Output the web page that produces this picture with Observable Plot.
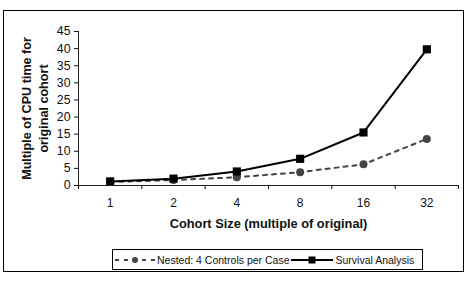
<!DOCTYPE html>
<html>
<head>
<meta charset="utf-8">
<script src="https://cdn.jsdelivr.net/npm/d3@7"></script>
<script src="https://cdn.jsdelivr.net/npm/@observablehq/plot@0.6"></script>
<style>
  body { margin: 0; background: #fff; font-family: "Liberation Sans", Arial, sans-serif; }
  #wrap { position: relative; width: 468px; height: 286px; }
  #border { position: absolute; left: 3px; top: 10px; width: 459px; height: 260px; border: 1.5px solid #000; }
  #chart { position: absolute; left: 0; top: 0; }
  #legend { position: absolute; left: 112px; top: 249px; width: 309px; height: 19px; border: 1px solid #000;
            display: flex; align-items: center; font-size: 10.5px; color: #111; white-space: nowrap; }
  #legend svg { display: block; }
</style>
</head>
<body>
<div id="wrap">
  <div id="border"></div>
  <div id="chart"></div>
  <div id="legend"></div>
</div>
<script>
// Cohort size multiples and relative CPU time for each method
const sizes = ["1", "2", "4", "8", "16", "32"];
const nested = [1.0, 1.6, 2.4, 3.9, 6.2, 13.6];
const survival = [1.2, 2.0, 4.1, 7.8, 15.5, 39.8];
const yTicks = [0, 5, 10, 15, 20, 25, 30, 35, 40, 45];
const seriesNames = ["Nested: 4 Controls per Case", "Survival Analysis"];

const nestedRows = sizes.map((s, i) => ({i, v: nested[i]}));
const survivalRows = sizes.map((s, i) => ({i, v: survival[i]}));
const boundaries = d3.range(sizes.length + 1).map(k => k - 0.5);

const font = "'Liberation Sans', Arial, sans-serif";

const chart = Plot.plot({
  width: 468,
  height: 240,
  marginLeft: 78,
  marginRight: 10,
  marginTop: 31,
  marginBottom: 55,
  style: {fontFamily: font, fontSize: "12px", color: "#111", background: "transparent"},
  x: {type: "linear", domain: [-0.5, sizes.length - 0.5], axis: null},
  y: {domain: [0, 45], axis: null},
  marks: [
    // y axis with outward ticks
    Plot.axisY({ticks: yTicks, tickSize: 4, tickPadding: 4, label: null, fontSize: 12.3, fill: "#111"}),
    Plot.ruleX([-0.5], {stroke: "#222", strokeWidth: 1}),
    // x axis: category labels at band centres, tick marks at band edges
    Plot.axisX({ticks: boundaries, tickSize: 4, tickFormat: () => "", label: null}),
    Plot.axisX({ticks: d3.range(sizes.length), tickSize: 0, tickPadding: 13, tickFormat: i => sizes[i], label: null, fontSize: 12, fill: "#111"}),
    Plot.ruleY([0], {stroke: "#222", strokeWidth: 1}),
    // axis titles
    Plot.text(["Cohort Size (multiple of original)"], {
      frameAnchor: "bottom", dy: 42, fontWeight: "bold", fontSize: 12.8, fill: "#111"
    }),
    Plot.text(["Multiple of CPU time for\noriginal cohort"], {
      frameAnchor: "left", dx: -44.5, rotate: -90, textAnchor: "middle", lineAnchor: "middle",
      fontWeight: "bold", fontSize: 12.6, lineHeight: 1.35, fill: "#111"
    }),
    // series
    Plot.line(nestedRows, {x: "i", y: "v", stroke: "#444", strokeWidth: 2, strokeDasharray: "4,5"}),
    Plot.dot(nestedRows, {x: "i", y: "v", r: 4, fill: "#444", stroke: "none"}),
    Plot.line(survivalRows, {x: "i", y: "v", stroke: "#000", strokeWidth: 2}),
    Plot.dot(survivalRows, {x: "i", y: "v", symbol: "square", r: 4.6, fill: "#000", stroke: "none"})
  ]
});
document.getElementById("chart").append(chart);

// legend
const legend = document.getElementById("legend");
function swatch(dashed) {
  const w = dashed ? 44 : 46;
  const svg = d3.create("svg").attr("width", w).attr("height", 12);
  svg.append("line").attr("x1", 2).attr("x2", w - 2).attr("y1", 6).attr("y2", 6)
    .attr("stroke", dashed ? "#444" : "#000").attr("stroke-width", 2)
    .attr("stroke-dasharray", dashed ? "4,5" : null);
  if (dashed) svg.append("circle").attr("cx", w / 2).attr("cy", 6).attr("r", 3).attr("fill", "#444");
  else svg.append("rect").attr("x", w / 2 - 3.5).attr("y", 2.5).attr("width", 7).attr("height", 7).attr("fill", "#000");
  return svg.node();
}
[true, false].forEach((dashed, k) => {
  legend.append(swatch(dashed));
  const span = document.createElement("span");
  span.textContent = seriesNames[k];
  legend.append(span);
});
</script>
</body>
</html>
